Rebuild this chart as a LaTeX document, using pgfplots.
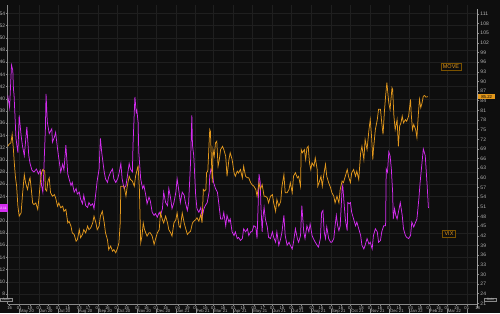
\documentclass[border=0pt]{standalone}
\usepackage{fontspec}
\setmainfont{Liberation Sans}
\usepackage{pgfplots}
\pgfplotsset{compat=1.18}
\definecolor{bg}{HTML}{0E0E0E}
\definecolor{gridc}{HTML}{1F1F1F}
\definecolor{axc}{HTML}{8A8A8A}
\definecolor{axr}{HTML}{A0A0A0}
\definecolor{autobg}{HTML}{1A1A1A}
\definecolor{tickc}{HTML}{B4B4B4}
\definecolor{vixc}{HTML}{D42CF0}
\definecolor{movec}{HTML}{E3981C}
\definecolor{boxc}{HTML}{7A5200}
\newcommand{\ms}[1]{{\color{axc}\rule[-0.4pt]{0.3pt}{3.8pt}}\,#1}
\begin{document}
\begin{tikzpicture}[x=1pt,y=1pt]
\path[use as bounding box] (0,0) rectangle (500,313);
\clip (0,0) rectangle (500,313);
\fill[bg] (0,0) rectangle (500,313);
\begin{axis}[at={(12,14)}, anchor=south west, scale only axis, width=470pt, height=299pt,
  xmin=-18, xmax=717, ymin=6.30, ymax=55.31,
  /pgf/number format/assume math mode=true,
  axis x line*=bottom, axis y line*=left,
  axis line style={axc, line width=0.5pt},
  tick align=outside, major tick length=1.4pt,
  every tick/.style={axc, line width=0.4pt},
  ytick={8,10,12,14,16,18,24,26,28,30,32,34,36,38,42,44,46,48,50,52,54},
  extra y ticks={20,40},
  extra y tick style={tick label style={text=white, font=\fontsize{5}{6}\selectfont\bfseries}},
  yticklabel style={font=\fontsize{5}{6}\selectfont, text=tickc, inner xsep=1pt},
  ymajorgrids, grid style={gridc, line width=0.4pt},
  xtick={-15,0,17,31,46,61,76,94,108,123,138,153,168,185,199,214,229,248,263,276,291,304,319,335,350,367,381,396,411,426,441,458,472,488,503,518,535,549,564,579,594,612,627,641,656,669,684,700,717},
  xticklabels={16,01,18,01,16,01,16,03,17,01,16,01,16,02,16,01,16,04,19,01,16,01,16,01,16,03,17,01,16,01,16,02,16,01,16,01,18,01,16,01,16,03,18,01,16,01,16,01,18},
  xticklabel style={font=\fontsize{4.2}{5}\selectfont, text=tickc, inner ysep=0.6pt, yshift=0.4pt},
  extra x ticks={0,31,61,92,123,153,184,214,245,276,304,335,365,396,426,457,488,518,549,579,610,641,669,700},
  extra x tick labels={\ms{May 20},\ms{Jun 20},\ms{Jul 20},\ms{Aug 20},\ms{Sep 20},\ms{Oct 20},\ms{Nov 20},\ms{Dec 20},\ms{Jan 21},\ms{Feb 21},\ms{Mar 21},\ms{Apr 21},\ms{May 21},\ms{Jun 21},\ms{Jul 21},\ms{Aug 21},\ms{Sep 21},\ms{Oct 21},\ms{Nov 21},\ms{Dec 21},\ms{Jan 22},\ms{Feb 22},\ms{Mar 22},\ms{}},
  extra x tick style={grid=major, major tick length=0pt,
    tick label style={anchor=north west, yshift=-4.6pt, xshift=-0.3pt, inner xsep=0pt, inner ysep=0.6pt, font=\fontsize{4.2}{5}\selectfont, text=tickc}},
]
\addplot[vixc, line width=0.75pt] coordinates {
(-18,40.6)(-15,38.6)(-12,45.5)(-10,44.7)(-9,41.7)(-8,40.6)(-5,33.5)(-2,31.2)(0,37.3)(3,34)(5,32.4)(8,30.7)(12,35.4)(15,30.7)(17,29.4)(20,28.3)(23,28)(27,28.5)(30,27.7)(33,28.3)(35,25.8)(37,24.7)(38,26.9)(41,35.1)(42,40.8)(44,36.2)(47,34.3)(51,35.1)(52,32.9)(55,33.7)(57,34.5)(60,31.8)(62,30.2)(65,28)(68,29.3)(70,28.3)(73,32.4)(76,27.7)(78,26.9)(81,25.8)(83,26.3)(86,24.7)(89,25.3)(91,24.4)(94,24.7)(96,23.6)(99,22.8)(101,24.2)(104,22.5)(107,22.2)(109,23)(112,22.5)(115,22.8)(117,22)(120,24.7)(122,26.6)(125,28.5)(127,33.5)(129,31.3)(131,29.6)(133,28)(135,26.9)(138,26.3)(140,27.2)(143,28)(146,28.5)(148,26.9)(151,26.3)(154,26.9)(156,27.7)(159,29.4)(161,26.9)(164,25.3)(167,25.8)(169,27.2)(172,29.4)(174,28.5)(177,28)(178,32.4)(180,37.8)(181,40.3)(183,37.8)(184,38.1)(186,36.2)(187,31.3)(190,26.9)(193,25.3)(195,25.8)(198,24.2)(200,22.8)(203,23.9)(205,23.3)(208,21.4)(211,20.9)(213,21.2)(216,20.6)(219,21.4)(221,20.9)(224,22)(226,24.7)(229,23)(232,22.5)(234,25.3)(237,23.6)(239,22)(242,23)(245,24.7)(247,26.9)(250,24.7)(252,23)(255,24.7)(258,24.2)(260,23)(263,21.7)(265,23)(268,29.6)(270,37.3)(271,32.4)(273,30.7)(276,24.2)(278,22)(281,21.4)(284,22.2)(286,20.6)(289,22)(291,22.5)(294,23)(297,24.7)(298,27.4)(300,28.5)(302,28)(304,26.3)(307,25.3)(310,24.7)(312,23)(315,20.3)(318,20.3)(320,21.4)(323,19.2)(325,20.9)(328,19.8)(330,20.3)(333,18.2)(336,17.6)(338,18.2)(341,17.1)(343,17.3)(346,16.8)(349,17.1)(351,18.7)(354,18.2)(357,18.7)(359,17.6)(362,18.2)(364,18.2)(367,19.2)(370,19)(372,17.1)(374,23.6)(375,27.7)(377,26.3)(378,22.5)(380,18.2)(381,20.3)(383,22.2)(385,20.3)(388,19)(390,17.3)(393,17.1)(396,18.2)(398,17.3)(401,16.5)(403,18.2)(406,16)(409,17.1)(411,18.2)(414,20.9)(416,17.6)(419,16)(422,16.5)(424,16)(427,15.4)(429,16.5)(432,18.7)(435,17.1)(437,16.5)(440,17.6)(442,22.5)(445,18.2)(447,17.1)(450,19.2)(453,18.2)(455,19.5)(458,17.6)(460,17.1)(463,16.5)(466,16)(468,15.7)(471,17.1)(473,21.4)(475,21.7)(477,18.2)(479,17.1)(481,19)(484,17.1)(487,16.5)(489,16.5)(492,17.1)(494,19.2)(496,20.9)(498,19.2)(500,18.4)(502,19.2)(505,25.3)(506,25.8)(508,23)(510,20.3)(513,18.4)(514,23)(516,22.8)(518,23)(520,21.4)(523,20.3)(526,19.2)(528,19.8)(531,18.7)(534,17.6)(536,16)(539,15.4)(541,16)(544,17.1)(547,16.2)(549,16.5)(552,15.4)(554,17.6)(557,18.7)(560,18.2)(562,16.5)(565,16.8)(567,18.2)(570,19.2)(573,19.2)(574,28.5)(576,28)(578,31.3)(580,30.7)(582,28.5)(584,24.7)(585,20.3)(587,22)(589,20.9)(591,20.3)(593,21.4)(596,23)(599,20.9)(601,18.7)(604,17.6)(606,17.3)(609,17.1)(612,17.6)(614,19.8)(617,19)(620,19.8)(622,20.3)(625,23.6)(627,26.3)(630,29.6)(632,31.8)(635,30.7)(638,25.8)(640,22.11)
};
\coordinate (vixlab) at (axis cs:-18,22.11);
\end{axis}
\begin{axis}[at={(12,14)}, anchor=south west, scale only axis, width=470pt, height=299pt,
  xmin=-18, xmax=717, ymin=19.39, ymax=112.34,
  /pgf/number format/assume math mode=true,
  axis x line=none, axis y line*=right,
  axis line style={axr, line width=0.5pt},
  tick align=outside, major tick length=1.6pt,
  every tick/.style={axc, line width=0.4pt},
  ytick={21,24,27,33,36,39,42,45,48,51,54,57,63,66,69,72,75,78,81,84,87,93,96,99,102,105,108,111},
  extra y ticks={30,60,90},
  extra y tick style={tick label style={text=white, font=\fontsize{5}{6}\selectfont\bfseries}},
  yticklabel style={font=\fontsize{5}{6}\selectfont, text=tickc, inner xsep=1pt},
]
\addplot[movec, line width=0.75pt] coordinates {
(-18,69.8)(-16,70.4)(-13,70.9)(-11,73.5)(-9,68.8)(-8,65.7)(-6,60.5)(-4,57.4)(-2,51.2)(0,48.1)(3,49.1)(5,54.3)(8,61)(10,58.5)(13,56.4)(16,59.5)(17,60)(19,56.4)(21,52.2)(23,51.7)(26,52.2)(29,50.2)(31,53.8)(33,58.5)(35,61.6)(37,62.6)(40,62.1)(41,56.4)(43,55.9)(45,59)(47,60)(49,55.4)(52,54.3)(55,54.8)(57,53.8)(60,51.2)(62,52.2)(65,50.7)(68,51.2)(70,49.6)(73,50.2)(76,46)(78,46.5)(81,45)(83,42.9)(86,42.4)(89,40.3)(91,40.8)(94,43.9)(96,41.4)(99,42.4)(101,43.9)(104,42.9)(107,45)(109,43.9)(112,44.5)(115,46)(117,48.1)(120,46)(122,43.9)(125,45)(127,48.1)(130,49.6)(133,46)(135,42.9)(138,40.8)(140,37.7)(143,38.8)(146,37.2)(148,37.7)(151,36.7)(154,38.3)(156,39.8)(158,46)(159,57.4)(161,57.4)(164,57.4)(167,54.3)(169,57.4)(172,60.5)(174,59.5)(177,59)(180,57.4)(182,60.5)(185,63.1)(186,63.6)(188,56.4)(189,48.1)(190,39.8)(192,41.9)(194,46)(196,43.9)(198,42.9)(200,41.9)(203,42.9)(205,42.9)(208,41.9)(211,39.3)(213,40.8)(216,42.9)(219,43.9)(221,49.1)(224,47)(226,46)(229,48.1)(232,46)(234,43.9)(237,42.9)(239,41.9)(242,46)(245,47)(247,49.1)(250,45)(252,44.5)(255,49.1)(258,46)(260,44.5)(263,42.4)(265,42.9)(268,43.4)(271,46)(273,46.5)(276,47)(278,47.6)(281,46.5)(284,48.6)(286,46)(288,56.4)(290,55.9)(292,56.4)(293,61.6)(295,62.1)(297,70.9)(298,75)(299,74.5)(300,68.8)(302,58.5)(303,68.8)(305,66.7)(307,70.9)(309,71.4)(311,63.6)(313,65.7)(315,68.8)(318,69.8)(320,68.8)(323,66.7)(325,60.5)(328,65.7)(330,67.8)(333,65.7)(336,61.6)(338,60.5)(341,62.1)(343,61.5)(346,62.6)(349,60)(351,63.6)(354,60.5)(357,60)(359,60)(362,58.5)(364,57.9)(367,57.4)(370,56.4)(372,54.3)(375,58.5)(377,56.4)(380,57.9)(383,54.3)(385,54.3)(388,53.8)(390,52.2)(393,54.3)(396,54.8)(398,52.2)(401,49.6)(403,53.3)(406,51.2)(409,52.7)(411,57.4)(414,61)(416,55.4)(419,55.4)(422,56.4)(424,58.5)(427,55.4)(429,60.5)(432,61.6)(435,60)(437,60.5)(440,57.4)(441,68.8)(443,67.8)(446,68.8)(448,65.7)(450,69.3)(452,69.8)(454,64.7)(456,62.6)(458,64.7)(461,63.6)(463,66.2)(466,62.6)(467,57.4)(469,58.5)(472,60.5)(474,57.4)(476,60.5)(479,64.2)(481,60.5)(484,58.5)(487,56.9)(489,55.4)(492,54.3)(494,52.2)(497,54.3)(500,52.2)(502,56.4)(505,59)(507,58.5)(510,60.5)(513,62.6)(515,60.5)(518,58.5)(520,61.6)(523,62.6)(526,60.5)(528,62.1)(531,59.5)(534,67.8)(536,69.8)(539,65.7)(541,71.9)(544,68.8)(547,75)(549,78.1)(551,73)(553,65.7)(554,68.8)(557,75)(560,78.1)(562,81.3)(565,81.3)(567,77.1)(569,73.5)(571,80.2)(573,85.4)(575,89.6)(578,83.3)(580,81.3)(583,88)(584,87.5)(586,79.2)(588,75)(591,78.1)(593,69.8)(595,76.1)(597,77.1)(599,79.2)(601,77.1)(604,78.1)(606,77.6)(609,79.2)(612,84.4)(613,80.2)(615,75)(617,76.6)(620,75)(622,72.5)(624,79.2)(626,84.4)(628,81.8)(630,83.3)(632,85.4)(634,85.6)(636,85.1)(639,85.22)
};
\coordinate (movelab) at (axis cs:717,85.22);
\end{axis}
\fill[vixc] ([yshift=-3.6pt]vixlab) rectangle ([xshift=-10.6pt, yshift=3.6pt]vixlab);
\node[text=white, font=\fontsize{3.3}{4}\selectfont, inner sep=0pt, anchor=east] at ([xshift=-0.8pt]vixlab) {22.11};
\node[fill=movec, text=black, font=\fontsize{4.3}{5}\selectfont, inner xsep=0.5pt, inner ysep=1pt, anchor=west, minimum width=17pt] at ([xshift=0.3pt]movelab) {85.22};
\node[draw=boxc, line width=0.7pt, text=movec, font=\fontsize{5.5}{6}\selectfont, inner xsep=2pt, inner ysep=1.8pt, fill=bg] at (451,246) {MOVE};
\node[draw=boxc, line width=0.7pt, text=movec, font=\fontsize{5.5}{6}\selectfont, inner xsep=2pt, inner ysep=1.8pt, fill=bg] at (449,79) {VIX};
\node[draw=axc, line width=0.3pt, text=tickc, fill=autobg, font=\fontsize{3.5}{4}\selectfont, inner sep=0.6pt, minimum width=12pt] at (6,13.5) {Auto};
\node[draw=axc, line width=0.3pt, text=tickc, fill=autobg, font=\fontsize{3.5}{4}\selectfont, inner sep=0.6pt, minimum width=12pt] at (490.5,13.5) {Auto};
\end{tikzpicture}
\end{document}
